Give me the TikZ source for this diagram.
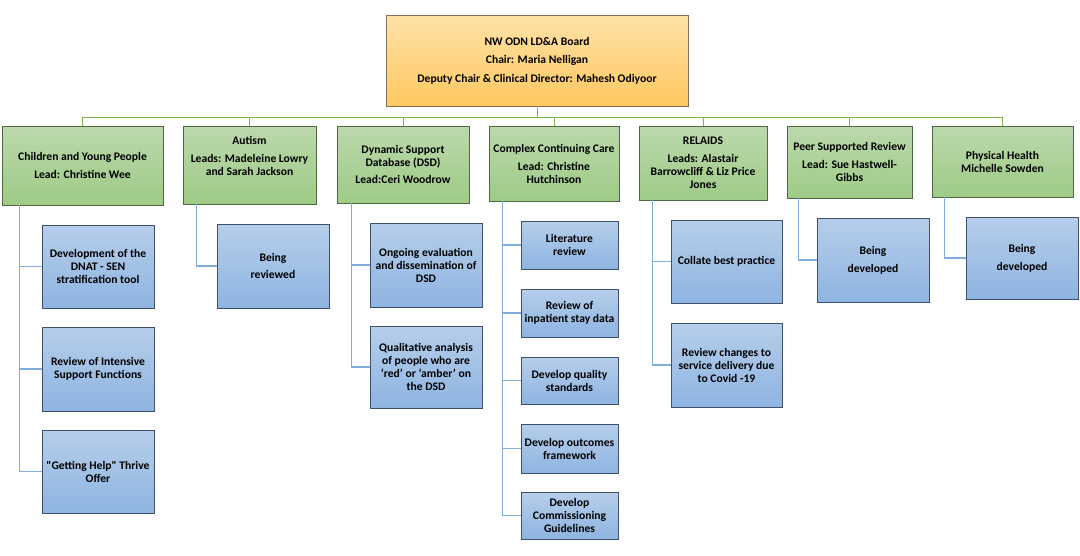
\documentclass[tikz,border=0pt]{standalone}
\usepackage{fontspec}
\setmainfont{Carlito}
\definecolor{boardtop}{RGB}{255,226,168}
\definecolor{boardbot}{RGB}{255,200,96}
\definecolor{boardline}{RGB}{130,112,80}
\definecolor{leadtop}{RGB}{188,216,172}
\definecolor{leadbot}{RGB}{158,203,134}
\definecolor{leadline}{RGB}{78,104,64}
\definecolor{tasktop}{RGB}{182,206,234}
\definecolor{taskbot}{RGB}{142,180,225}
\definecolor{taskline}{RGB}{62,80,108}
\definecolor{busline}{RGB}{124,184,76}
\definecolor{tieline}{RGB}{130,174,222}
\begin{document}
\begin{tikzpicture}[x=1pt,y=-1pt,
        box/.style={draw, line width=0.8pt, align=center, inner sep=1pt,
            font=\bfseries\fontsize{11.6}{13}\selectfont},
        boardbox/.style={box, draw=boardline, top color=boardtop, bottom color=boardbot},
        leadbox/.style={box, draw=leadline, top color=leadtop, bottom color=leadbot},
        taskbox/.style={box, draw=taskline, top color=tasktop, bottom color=taskbot},
        bus/.style={draw=busline, line width=1pt},
        tie/.style={draw=tieline, line width=1.3pt}
    ]
    \useasboundingbox (0,0) rectangle (1080,555);
    % board
    \node[boardbox, minimum width=302, minimum height=91] (board) at (537,60.5)
        {NW ODN LD\&A Board\\[5.5pt]
         Chair: Maria Nelligan\\[5.5pt]
         Deputy Chair \& Clinical Director: Mahesh Odiyoor};
    % work streams
    \node[leadbox, minimum width=161, minimum height=79] (cyp) at (82.5,165.5)
        {Children and Young People\\[4.5pt]Lead: Christine Wee};
    \node[leadbox, minimum width=133, minimum height=78] (autism) at (249.5,165)
        {Autism\\[5pt]Leads: Madeleine Lowry\\and Sarah Jackson\\[6pt]\mbox{}};
    \node[leadbox, minimum width=132, minimum height=77] (dsd) at (403,164.5)
        {Dynamic Support\\Database (DSD)\\[4.5pt]Lead:Ceri Woodrow};
    \node[leadbox, minimum width=130, minimum height=75] (ccc) at (554,163.5)
        {Complex Continuing Care\\[5pt]Lead: Christine\\Hutchinson};
    \node[leadbox, minimum width=128, minimum height=74] (relaids) at (703,163)
        {RELAIDS\\[5pt]Leads: Alastair\\Barrowcliff \& Liz Price\\Jones};
    \node[leadbox, minimum width=125, minimum height=72] (peer) at (849.5,162)
        {Peer Supported Review\\[5pt]Lead: Sue Hastwell-\\Gibbs};
    \node[leadbox, minimum width=141, minimum height=71] (physical) at (1002.5,161.5)
        {Physical Health\\Michelle Sowden};
    % tasks
    \node[taskbox, minimum width=112, minimum height=83] (cypA) at (98,266.5)
        {Development of the\\DNAT - SEN\\stratification tool};
    \node[taskbox, minimum width=112, minimum height=84] (cypB) at (98,369)
        {Review of Intensive\\Support Functions};
    \node[taskbox, minimum width=112, minimum height=83] (cypC) at (98,471.5)
        {\textquotedbl Getting Help\textquotedbl{} Thrive\\Offer};
    \node[taskbox, minimum width=112, minimum height=84] (autA) at (273,266)
        {Being\\[4.5pt]reviewed};
    \node[taskbox, minimum width=112, minimum height=84] (dsdA) at (426,265)
        {Ongoing evaluation\\and dissemination of\\DSD};
    \node[taskbox, minimum width=112, minimum height=82] (dsdB) at (426,367)
        {Qualitative analysis\\of people who are\\‘red’ or ‘amber’ on\\the DSD};
    \node[taskbox, minimum width=97, minimum height=48] (cccA) at (569.5,245)
        {Literature\\review};
    \node[taskbox, minimum width=97, minimum height=48] (cccB) at (569.5,313)
        {Review of\\inpatient stay data};
    \node[taskbox, minimum width=97, minimum height=47] (cccC) at (569.5,380.5)
        {Develop quality\\standards};
    \node[taskbox, minimum width=97, minimum height=49] (cccD) at (569.5,448.5)
        {Develop outcomes\\framework};
    \node[taskbox, minimum width=97, minimum height=47] (cccE) at (569.5,515.5)
        {Develop\\Commissioning\\Guidelines};
    \node[taskbox, minimum width=111, minimum height=83] (relA) at (726.5,261.5)
        {Collate best practice};
    \node[taskbox, minimum width=111, minimum height=84] (relB) at (726.5,365)
        {Review changes to\\service delivery due\\to Covid -19};
    \node[taskbox, minimum width=112, minimum height=84] (peerA) at (873,260)
        {Being\\[5pt]developed};
    \node[taskbox, minimum width=112, minimum height=82] (physA) at (1022,258)
        {Being\\[5pt]developed};
    % connectors
    \coordinate (bus) at (537,117);
    \draw[bus] (board.south) -- (bus);
    \draw[bus] (cyp.north |- bus) -- (physical.north |- bus);
    \foreach \n in {cyp,autism,dsd,ccc,relaids,peer,physical}
        \draw[bus] (\n.north |- bus) -- (\n.north);
    \foreach \h/\t/\d in {cyp/cypA/18, cyp/cypB/18, cyp/cypC/18, autism/autA/14,
            dsd/dsdA/15, dsd/dsdB/15, ccc/cccA/14, ccc/cccB/14, ccc/cccC/14,
            ccc/cccD/14, ccc/cccE/14, relaids/relA/14, relaids/relB/14,
            peer/peerA/12, physical/physA/13}
        \draw[tie] (\h.south west) ++(\d,0) |- (\t.west);
\end{tikzpicture}
\end{document}
